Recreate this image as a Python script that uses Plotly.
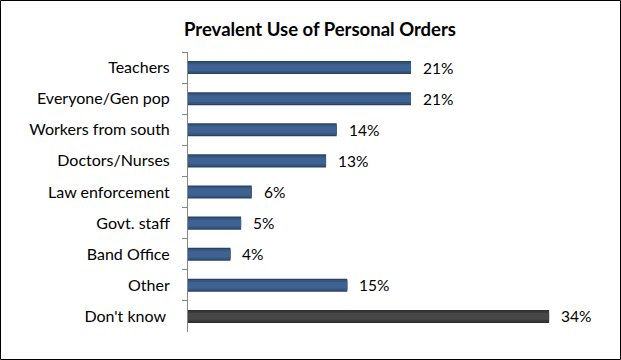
import plotly.graph_objects as go

categories = ["Teachers", "Everyone/Gen pop", "Workers from south", "Doctors/Nurses",
              "Law enforcement", "Govt. staff", "Band Office", "Other", "Don't know "]
values = [21, 21, 14, 13, 6, 5, 4, 15, 34]
value_labels = ["21%", "21%", "14%", "13%", "6%", "5%", "4%", "15%", "34%"]
outer_colors = ["#2a4262"] * 8 + ["#2e2e2e"]
mid_colors = ["#34567f"] * 8 + ["#3a3a3a"]
inner_colors = ["#3e6393"] * 8 + ["#474747"]

W, H = 621, 360
L, R, T, B = 188, 21, 52, 28
pw, ph = W - L - R, H - T - B
XMAX = pw / 10.62

fig = go.Figure()
for col, wdt in [(outer_colors, 0.42), (mid_colors, 0.34), (inner_colors, 0.22)]:
    fig.add_trace(go.Bar(
        y=categories, x=values, orientation="h", width=wdt,
        marker=dict(color=col, line=dict(width=0)),
        hoverinfo="skip", showlegend=False,
    ))

annotations = []
for c, v, t in zip(categories, values, value_labels):
    annotations.append(dict(x=v, y=c, xref="x", yref="y", text=t, showarrow=False,
                            xanchor="left", yanchor="middle", xshift=10,
                            font=dict(family="Lato", size=15.5, color="#000000")))

def px2x(p):
    return (p - L) / pw

def py2y(p):
    return 1 - (p - T) / ph

fig.update_layout(
    width=W, height=H,
    margin=dict(l=L, r=R, t=T, b=B),
    paper_bgcolor="white", plot_bgcolor="white",
    barmode="overlay",
    title=dict(text="<b>Prevalent Use of Personal Orders</b>", x=320 / W, xanchor="center",
               y=1 - 30 / H, yanchor="middle", yref="container", xref="container",
               font=dict(family="Lato", size=18.5, color="#000000")),
    xaxis=dict(range=[0, XMAX], visible=False, fixedrange=True),
    yaxis=dict(autorange="reversed", showline=True, linecolor="#868686", linewidth=1,
               ticks="outside", tickson="boundaries", ticklen=5, tickcolor="#868686",
               ticklabelstandoff=14,
               tickfont=dict(family="Lato", size=16, color="#000000"),
               showgrid=False, zeroline=False, fixedrange=True),
    annotations=annotations,
    shapes=[dict(type="rect", xref="paper", yref="paper",
                 x0=px2x(0.5), x1=px2x(W - 0.5), y0=py2y(H - 0.5), y1=py2y(0.5),
                 line=dict(color="#000000", width=1), layer="above")],
    bargap=0.58,
)

fig.write_html("out.html", config={"displayModeBar": False},
               post_script="document.body.style.margin='0';")
